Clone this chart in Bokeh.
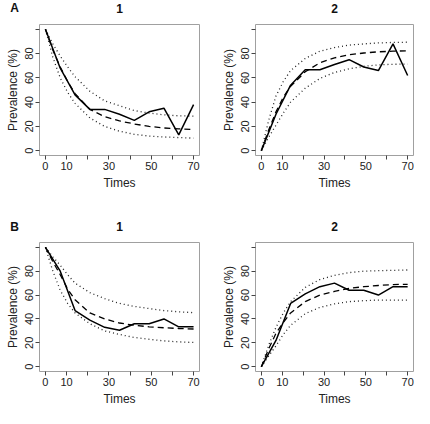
from bokeh.plotting import figure
from bokeh.layouts import gridplot
from bokeh.models import Range1d, FixedTicker, Label
from bokeh.embed import file_html
from bokeh.resources import INLINE

# observation times and fitted-curve times
times_obs = [0, 7, 14, 21, 28, 35, 42, 49, 56, 63, 70]
times_fit = [0, 3.5, 7, 10.5, 14, 21, 28, 35, 42, 49, 56, 63, 70]

# Panel A-1
a1_obs = [100, 68, 46, 34, 34, 30, 25, 32, 35, 13, 38]
a1_fit = [100, 83, 69, 57, 47, 34, 28, 24.5, 22, 20, 18.7, 18, 17.5]
a1_hi = [100, 88, 78, 69, 61, 49, 41, 37, 33, 31, 29.5, 28.7, 28.5]
a1_lo = [100, 77, 60, 48, 39, 27, 20, 16, 13.5, 12, 11.3, 10.8, 10.3]

# Panel A-2
a2_obs = [0, 30, 54, 66.7, 66.7, 71, 75, 69, 66, 88, 62]
a2_fit = [0, 17, 32, 44, 53, 65, 72.5, 76.5, 79, 80.5, 81.5, 82, 82.3]
a2_hi = [0, 25, 45, 57, 66, 76, 82, 85, 87, 88, 88.8, 89.2, 89.4]
a2_lo = [0, 11, 21, 31, 40, 51.5, 59.5, 64.5, 67.5, 69.5, 70.7, 71.2, 71.4]

# Panel B-1
b1_obs = [100, 80, 47, 39, 33, 30.5, 36, 36, 40, 33.4, 33.4]
b1_fit = [100, 88, 77, 65, 56, 45, 40, 36.6, 34.7, 33.4, 32.6, 32, 31.6]
b1_hi = [100, 92, 85, 77, 70, 62, 57, 53, 50.5, 48.7, 47, 46, 45.3]
b1_lo = [100, 80, 64, 53, 45, 36, 30, 27, 24.5, 23, 21.6, 20.8, 20.3]

# Panel B-2
b2_obs = [0, 22, 53, 61, 67, 70, 64, 64, 60, 67, 67]
b2_fit = [0, 15, 28, 37, 45, 54.5, 60, 63, 65.6, 67, 68, 68.8, 69]
b2_hi = [0, 18, 33, 45, 54.5, 66.4, 73, 76.5, 78.8, 80, 80.4, 80.7, 81]
b2_lo = [0, 9, 17.5, 27, 34.7, 44.4, 49.7, 52.6, 54.5, 55.3, 55.8, 55.8, 55.8]

x_ticks = [0, 10, 20, 30, 40, 50, 60, 70]
x_hidden = [20, 40, 60]
y_ticks = [0, 20, 40, 60, 80, 100]
y_hidden = [100]

panel_titles = ["1", "2", "1", "2"]
row_letters = ["A", "B"]

FONT = "Liberation Sans"

col_geom = [dict(width=212, left=39, right=13), dict(width=202, left=43, right=1)]
row_geom = [dict(height=200, top=24, bottom=45), dict(height=208, top=42, bottom=35)]


def make_panel(obs, fit, hi, lo, title, letter, col, row):
    cg, rg = col_geom[col], row_geom[row]
    p = figure(width=cg["width"], height=rg["height"], output_backend="svg",
               toolbar_location=None, title_location=None,
               x_range=Range1d(-2.8, 72.8), y_range=Range1d(-4, 104),
               min_border_left=cg["left"], min_border_right=cg["right"],
               min_border_top=rg["top"], min_border_bottom=rg["bottom"])
    p.background_fill_color = "white"
    p.border_fill_color = "white"
    p.outline_line_color = "#a0a0a0"
    p.outline_line_width = 1
    p.xgrid.visible = False
    p.ygrid.visible = False

    for ax, ticks, hidden, lab in ((p.xaxis[0], x_ticks, x_hidden, "Times"),
                                   (p.yaxis[0], y_ticks, y_hidden, "Prevalence (%)")):
        ax.ticker = FixedTicker(ticks=ticks)
        ax.major_label_overrides = {t: "" for t in hidden}
        ax.axis_line_color = None
        ax.major_tick_line_color = "#444444"
        ax.major_tick_in = 0
        ax.major_tick_out = 4
        ax.minor_tick_line_color = None
        ax.major_label_text_font = FONT
        ax.major_label_text_font_size = "11px"
        ax.major_label_text_color = "#222222"
        ax.major_label_standoff = 2
        ax.axis_label = lab
        ax.axis_label_text_font = FONT
        ax.axis_label_text_font_size = "12px"
        ax.axis_label_text_font_style = "normal"
        ax.axis_label_text_color = "#222222"
        ax.axis_label_standoff = 3
    p.yaxis[0].major_label_orientation = "vertical"

    p.line(times_fit, hi, line_color="#222222", line_width=1.3, line_dash="1 3")
    p.line(times_fit, lo, line_color="#222222", line_width=1.3, line_dash="1 3")
    p.line(times_fit, fit, line_color="black", line_width=1.3, line_dash="6 4")
    p.line(times_obs, obs, line_color="black", line_width=1.5)

    p.add_layout(Label(x=35, y=117.2, text=title, text_font=FONT,
                       text_font_size="12px", text_font_style="bold",
                       text_align="center", text_baseline="middle",
                       text_color="#111111"), "above")
    if letter:
        p.add_layout(Label(x=-14.6, y=117.2, text=letter, text_font=FONT,
                           text_font_size="12px", text_font_style="bold",
                           text_align="center", text_baseline="middle",
                           text_color="#111111"), "above")
    return p


pa1 = make_panel(a1_obs, a1_fit, a1_hi, a1_lo, panel_titles[0], row_letters[0], 0, 0)
pa2 = make_panel(a2_obs, a2_fit, a2_hi, a2_lo, panel_titles[1], None, 1, 0)
pb1 = make_panel(b1_obs, b1_fit, b1_hi, b1_lo, panel_titles[2], row_letters[1], 0, 1)
pb2 = make_panel(b2_obs, b2_fit, b2_hi, b2_lo, panel_titles[3], None, 1, 1)

grid = gridplot([[pa1, pa2], [pb1, pb2]], toolbar_location=None)

open("out.html", "w").write(file_html(grid, INLINE))
